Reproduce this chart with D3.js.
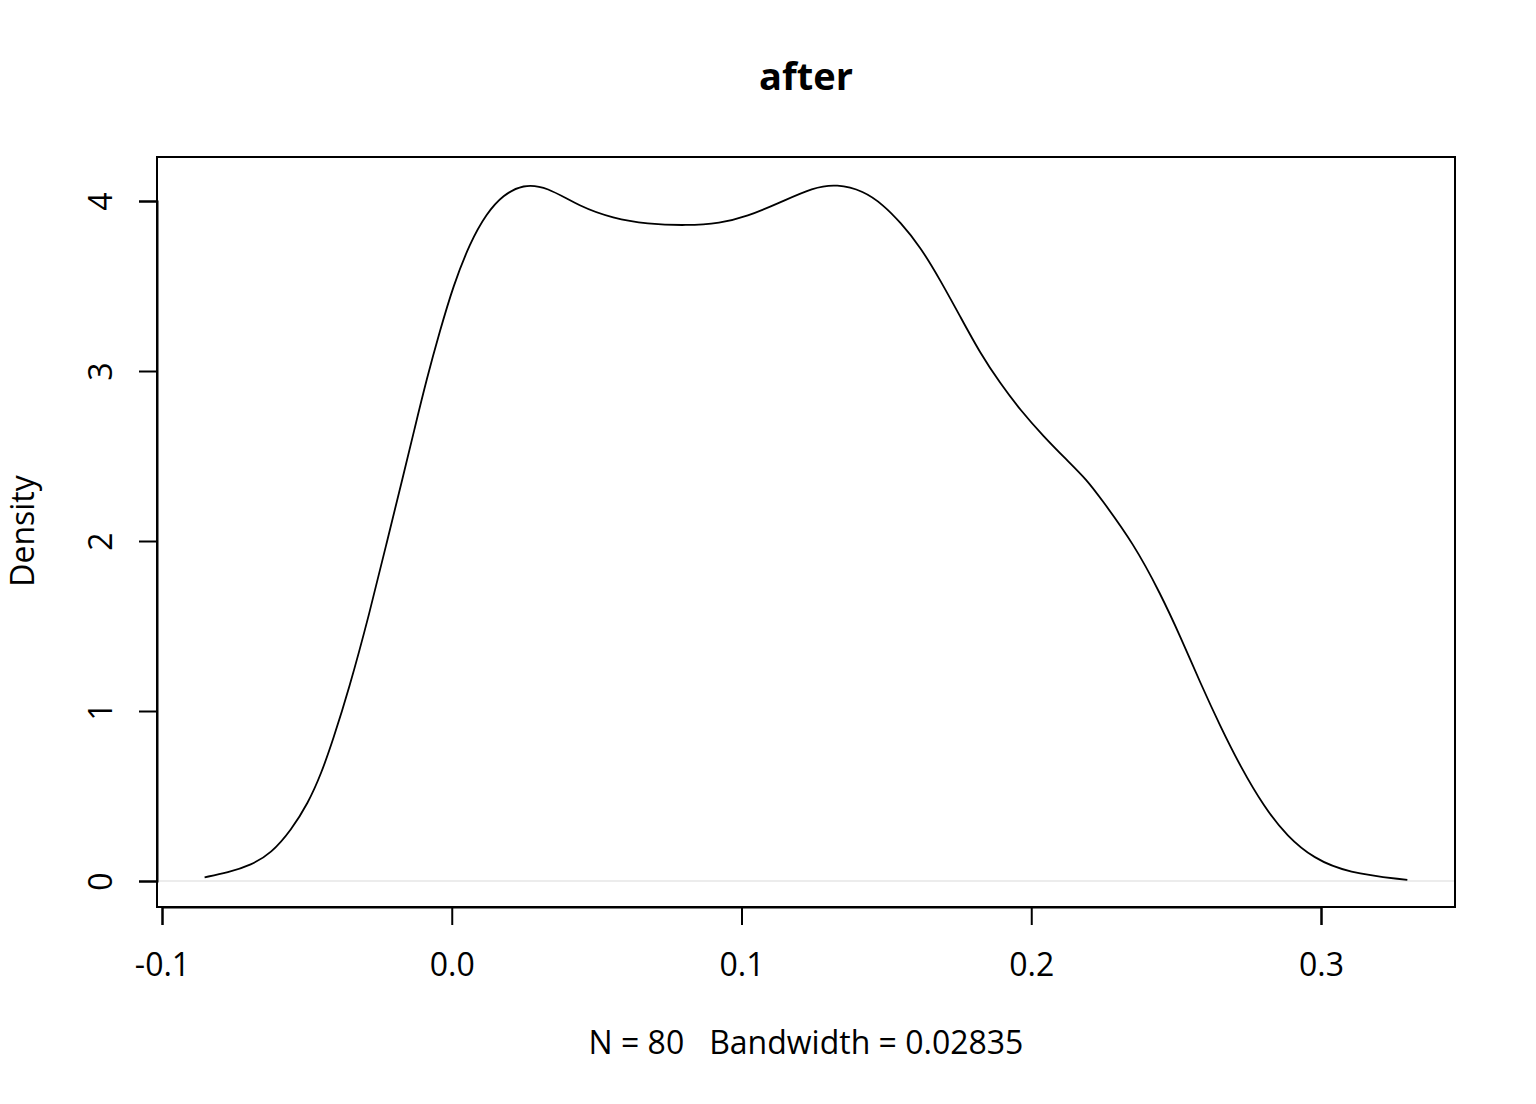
<!DOCTYPE html>
<html>
<head>
<meta charset="utf-8">
<script src="https://cdn.jsdelivr.net/npm/d3@7"></script>
<style>
  body { margin: 0; background: #fff; }
  svg text { font-family: "Open Sans", "Noto Sans", sans-serif; fill: #000; white-space: pre; }
</style>
</head>
<body>
<svg id="chart" width="1536" height="1104"></svg>
<script>
// Density estimate
var xs = [-0.0853, -0.0773, -0.0692, -0.0623, -0.0554, -0.0496, -0.0450, -0.0410, -0.0356, -0.0283,
          -0.0226, -0.0168, -0.0128, -0.0087, -0.0041, 0.0005, 0.0062, 0.0120, 0.0177, 0.0246,
          0.0327, 0.0442, 0.0557, 0.0673, 0.0811, 0.0926, 0.1018, 0.1133, 0.1248, 0.1329,
          0.1421, 0.1490, 0.1548, 0.1617, 0.1686, 0.1755, 0.1824, 0.1893, 0.1962, 0.2043,
          0.2123, 0.2192, 0.2238, 0.2353, 0.2446, 0.2515, 0.2584, 0.2653, 0.2722, 0.2803,
          0.2884, 0.2975, 0.3090, 0.3298];
var ys = [0.022, 0.049, 0.094, 0.163, 0.300, 0.457, 0.633, 0.830, 1.120, 1.580,
          1.980, 2.380, 2.663, 2.950, 3.235, 3.500, 3.751, 3.927, 4.035, 4.098,
          4.085, 3.967, 3.898, 3.865, 3.855, 3.869, 3.908, 3.991, 4.080, 4.100,
          4.060, 3.976, 3.875, 3.731, 3.535, 3.320, 3.104, 2.927, 2.771, 2.614,
          2.476, 2.359, 2.255, 1.986, 1.690, 1.437, 1.163, 0.908, 0.673, 0.437,
          0.261, 0.133, 0.049, 0.006];

var xTicks = [-0.1, 0.0, 0.1, 0.2, 0.3];
var yTicks = [0, 1, 2, 3, 4];

var titleText = 'after';
var xLabel = 'N = 80   Bandwidth = 0.02835';
var yLabel = 'Density';

var svg = d3.select('#chart');

// Plot region (the box)
var box = { left: 157, right: 1455, top: 157, bottom: 907 };

var xScale = d3.scaleLinear().domain([-0.1, 0.3]).range([162, 1321]);
var yScale = d3.scaleLinear().domain([0, 4]).range([881, 201]);

var points = xs.map(function(x, i) { return [x, ys[i]]; });

// zero reference line
svg.append('line')
    .attr('x1', box.left).attr('x2', box.right)
    .attr('y1', yScale(0)).attr('y2', yScale(0))
    .attr('stroke', '#d9d9d9')
    .attr('stroke-width', 1);

// density curve (basis spline smooths out reading noise)
var line = d3.line()
    .x(function(d) { return xScale(d[0]); })
    .y(function(d) { return yScale(d[1]); })
    .curve(d3.curveBasis);

svg.append('path')
    .datum(points)
    .attr('d', line)
    .attr('fill', 'none')
    .attr('stroke', '#000')
    .attr('stroke-width', 1.8);

// box
svg.append('rect')
    .attr('x', box.left).attr('y', box.top)
    .attr('width', box.right - box.left)
    .attr('height', box.bottom - box.top)
    .attr('fill', 'none')
    .attr('stroke', '#000')
    .attr('stroke-width', 2);

// x axis
var xAxis = d3.axisBottom(xScale)
    .tickValues(xTicks)
    .tickSize(18)
    .tickFormat(function(d) { return d.toFixed(1); });

var gx = svg.append('g')
    .attr('transform', 'translate(0,' + box.bottom + ')')
    .call(xAxis);
gx.selectAll('path, line').attr('stroke', '#000').attr('stroke-width', 2);
gx.selectAll('text')
    .attr('font-size', 32)
    .attr('font-family', '"Open Sans", sans-serif')
    .attr('fill', '#000')
    .attr('y', 976 - box.bottom)
    .attr('dy', null);

// y axis
var yAxis = d3.axisLeft(yScale)
    .tickValues(yTicks)
    .tickSize(18)
    .tickFormat(d3.format('d'));

var gy = svg.append('g')
    .attr('transform', 'translate(' + box.left + ',0)')
    .call(yAxis);
gy.selectAll('path, line').attr('stroke', '#000').attr('stroke-width', 2);
gy.selectAll('text')
    .attr('font-size', 32)
    .attr('font-family', '"Open Sans", sans-serif')
    .attr('fill', '#000')
    .attr('x', null).attr('dy', null)
    .attr('text-anchor', 'middle')
    .attr('transform', 'translate(' + (112 - box.left) + ',0) rotate(-90)');

// title
svg.append('text')
    .attr('x', 806).attr('y', 90)
    .attr('text-anchor', 'middle')
    .attr('font-size', 38)
    .attr('font-weight', 'bold')
    .text(titleText);

// x label
svg.append('text')
    .attr('x', 806).attr('y', 1054)
    .attr('text-anchor', 'middle')
    .attr('font-size', 32)
    .text(xLabel);

// y label
svg.append('text')
    .attr('transform', 'translate(34,531) rotate(-90)')
    .attr('text-anchor', 'middle')
    .attr('font-size', 32)
    .text(yLabel);
</script>
</body>
</html>
